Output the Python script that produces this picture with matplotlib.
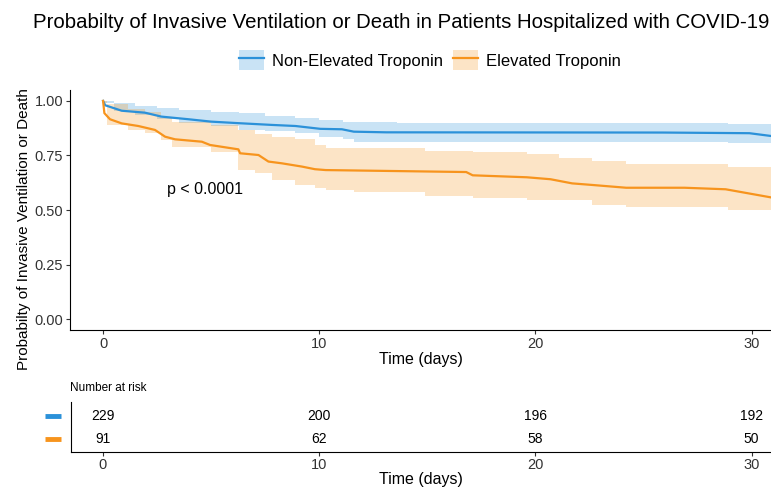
import matplotlib.pyplot as plt
from matplotlib.patches import Patch
from matplotlib.lines import Line2D

plt.rcParams['font.family'] = ['Liberation Sans', 'DejaVu Sans']

# survival estimates
blue_t = [0, 0.1, 0.86, 1.94, 2.7, 3.95, 5.0, 6.26, 7.8, 8.9, 10.05, 11.05, 11.6, 13.1, 25.9, 29.9, 31]
blue_s = [1.0, 0.98, 0.955, 0.946, 0.928, 0.916, 0.905, 0.898, 0.89, 0.885, 0.872, 0.87, 0.859, 0.856, 0.855, 0.852, 0.838]

orange_t = [0, 0.06, 0.32, 0.86, 1.63, 2.4, 2.87, 3.33, 4.57, 4.95, 6.26, 6.34, 7.19, 7.65, 8.27, 9.2, 9.8,
            10.3, 16.8, 17.1, 19.6, 20.7, 21.7, 22.6, 24.2, 26.9, 28.8, 31]
orange_s = [1.0, 0.944, 0.916, 0.897, 0.885, 0.867, 0.836, 0.824, 0.813, 0.798, 0.778, 0.76, 0.752, 0.722,
            0.714, 0.699, 0.687, 0.683, 0.674, 0.659, 0.65, 0.641, 0.622, 0.615, 0.602, 0.602, 0.595, 0.556]

# confidence bands
blue_band_t = [0, 0.5, 1.5, 2.5, 3.5, 5.0, 6.3, 7.5, 8.9, 10.0, 11.1, 11.6, 13.6, 28.9, 29.9, 31]
blue_hi = [1.0, 0.99, 0.978, 0.968, 0.96, 0.95, 0.943, 0.93, 0.92, 0.913, 0.902, 0.902, 0.897, 0.893, 0.893, 0.893]
blue_lo = [0.99, 0.955, 0.935, 0.915, 0.9, 0.885, 0.868, 0.86, 0.852, 0.836, 0.824, 0.813, 0.813, 0.809, 0.806, 0.806]

orange_band_t = [0, 0.2, 1.16, 1.94, 2.7, 3.2, 5.0, 6.26, 7.04, 7.8, 8.9, 9.8, 10.3, 11.6, 14.9, 17.1, 19.6,
                 21.1, 22.6, 24.2, 28.9, 31]
orange_hi = [1.0, 0.985, 0.965, 0.95, 0.92, 0.905, 0.89, 0.867, 0.85, 0.835, 0.825, 0.8, 0.784, 0.784, 0.772,
             0.766, 0.757, 0.737, 0.725, 0.711, 0.699, 0.699]
orange_lo = [0.99, 0.89, 0.867, 0.853, 0.82, 0.79, 0.767, 0.683, 0.668, 0.638, 0.615, 0.6, 0.592, 0.584, 0.564,
             0.555, 0.547, 0.545, 0.523, 0.512, 0.50, 0.50]

groups = ['Non-Elevated Troponin', 'Elevated Troponin']
risk_times = [0, 10, 20, 30]
risk_blue = [229, 200, 196, 192]
risk_orange = [91, 62, 58, 50]

blue = '#2B91D9'
orange = '#F7941D'
grey = '#333333'

fig = plt.figure(figsize=(7.71, 4.92), dpi=100)
ax = fig.add_axes([70 / 771, 1 - 330 / 492, 1 - 70 / 771, 240 / 492])

ax.fill_between(blue_band_t, blue_lo, blue_hi, step='post', color=blue, alpha=0.25, lw=0)
ax.fill_between(orange_band_t, orange_lo, orange_hi, step='post', color=orange, alpha=0.25, lw=0)
ax.plot(blue_t, blue_s, color=blue, lw=1.6)
ax.plot(orange_t, orange_s, color=orange, lw=1.6)

ax.text(2.96, 0.596, 'p < 0.0001', fontsize=11.5, va='center', ha='left')

ax.set_xlim(-1.53, 30.9)
ax.set_ylim(-0.05, 1.05)
ax.set_xticks(risk_times)
ax.set_yticks([0, 0.25, 0.5, 0.75, 1.0])
ax.set_yticklabels(['0.00', '0.25', '0.50', '0.75', '1.00'])
ax.tick_params(labelsize=10.5, length=3, colors=grey, labelcolor=grey, pad=2)
ax.set_xlabel('Time (days)', fontsize=11.5, labelpad=1)
ax.set_ylabel('Probabilty of Invasive Ventilation or Death', fontsize=11)
ax.yaxis.set_label_coords(-0.056, 0.42)
for s in ['top', 'right']:
    ax.spines[s].set_visible(False)

fig.text(401 / 771, 1 - 22 / 492, 'Probabilty of Invasive Ventilation or Death in Patients Hospitalized with COVID-19',
         fontsize=14.7, ha='center', va='center')

handles = [(Patch(color=blue, alpha=0.25, lw=0), Line2D([], [], color=blue, lw=1.6)),
           (Patch(color=orange, alpha=0.25, lw=0), Line2D([], [], color=orange, lw=1.6))]
fig.legend(handles, groups, loc='center', bbox_to_anchor=(430 / 771, 1 - 60 / 492), ncol=2,
           frameon=False, fontsize=12, handlelength=1.5, handleheight=1.4, columnspacing=0.6, handletextpad=0.5)

# risk table
rt = fig.add_axes([71 / 771, 1 - 452 / 492, 1 - 71 / 771, 50 / 492])
for x, n in zip(risk_times, risk_blue):
    rt.text(x, 2, str(n), ha='center', va='center', fontsize=10)
for x, n in zip(risk_times, risk_orange):
    rt.text(x, 1, str(n), ha='center', va='center', fontsize=10)
rt.plot([-2.7, -1.95], [2, 2], color=blue, lw=3.5, clip_on=False, solid_capstyle='butt')
rt.plot([-2.7, -1.95], [1, 1], color=orange, lw=3.5, clip_on=False, solid_capstyle='butt')
rt.set_xlim(-1.48, 30.9)
rt.set_ylim(0.45, 2.6)
rt.set_xticks(risk_times)
rt.set_yticks([])
rt.tick_params(labelsize=10.5, length=3, colors=grey, labelcolor=grey, pad=1)
rt.set_xlabel('Time (days)', fontsize=11.5, labelpad=0)
for s in ['top', 'right']:
    rt.spines[s].set_visible(False)
fig.text(70 / 771, 1 - 388 / 492, 'Number at risk', fontsize=8.5, ha='left', va='center')

fig.savefig('out.png', dpi=100)
